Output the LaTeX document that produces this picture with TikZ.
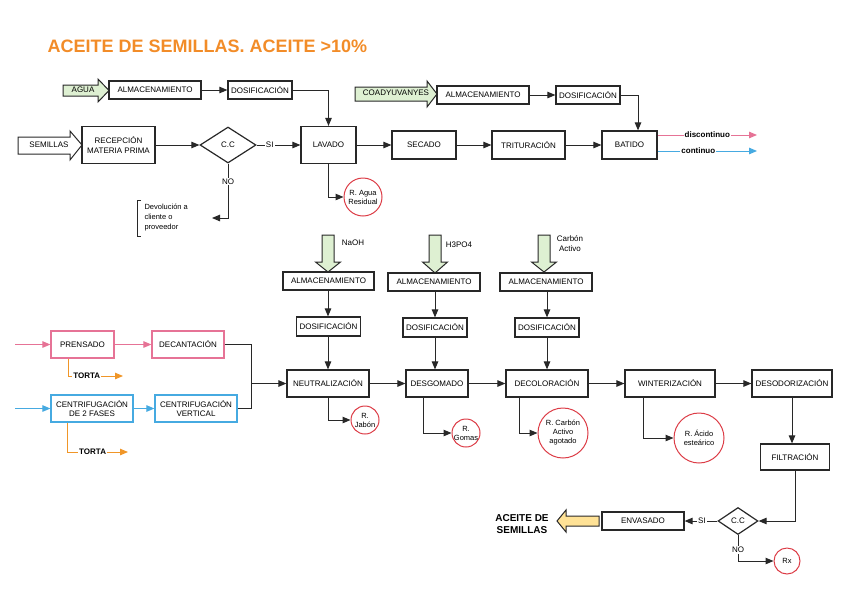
\documentclass[tikz,border=0pt]{standalone}
\usepackage{fontspec}
\setmainfont{Liberation Sans}
\usetikzlibrary{arrows.meta,shapes.geometric,calc}
\definecolor{pinkc}{RGB}{230,115,150}
\definecolor{bluec}{RGB}{70,170,225}
\definecolor{orangec}{RGB}{240,150,40}
\definecolor{redc}{RGB}{220,60,70}
\definecolor{greenf}{RGB}{222,240,210}
\definecolor{yellowf}{RGB}{255,226,150}
\definecolor{titlec}{RGB}{242,140,40}
\definecolor{linec}{RGB}{40,40,40}
\newcommand\mybx[7][linec]{\node[box,draw=#1,minimum width=#5pt,minimum height=#6pt] (#2) at (#3,#4) {#7};}
\begin{document}
\begin{tikzpicture}[x=1pt,y=-1pt,
 font=\fontsize{8}{9.5}\selectfont,
 box/.style={draw=linec, line width=1.2pt, inner sep=0pt, align=center},
 res/.style={circle, draw=redc, line width=1pt, inner sep=0pt, align=center, font=\fontsize{7.5}{9}\selectfont},
 dia/.style={diamond, draw=linec, line width=1.2pt, inner sep=0pt},
 conn/.style={draw=linec, line width=1pt, -{Triangle[length=8pt,width=6.5pt]}},
 plain/.style={draw=linec, line width=1pt},
 lab/.style={fill=white, inner sep=1pt},
 blab/.style={fill=white, inner sep=1pt, font=\fontsize{8}{9.5}\selectfont\bfseries},
 blk/.style={draw=linec, line width=1pt, fill=greenf, line join=miter},
]
\useasboundingbox (0,0) rectangle (848,600);

% title
\node[anchor=west, text=titlec, font=\fontsize{18}{20}\selectfont\bfseries] (title) at (44,46) {ACEITE DE SEMILLAS. ACEITE >10\%};

% block arrows (inputs)
\draw[blk] (63,85)--(98,85)--(98,79)--(109,90.5)--(98,102)--(98,96)--(63,96)--cycle;
\node (agua) at (83,89.5) {AGUA};
\draw[blk, fill=white] (18,137)--(70,137)--(70,131)--(82,145)--(70,160)--(70,154)--(18,154)--cycle;
\node (semillas) at (49,145) {SEMILLAS};
\draw[blk] (355,87)--(427,87)--(427,81)--(437,94)--(427,107)--(427,101)--(355,101)--cycle;
\node (coad) at (396,93) {COADYUVANYES};
\draw[blk] (322,235)--(334,235)--(334,262)--(340.5,262)--(328,272)--(315.5,262)--(322,262)--cycle;
\node (naoh) at (353,243) {NaOH};
\draw[blk] (429,235)--(441,235)--(441,262)--(447.5,262)--(435,273)--(422.5,262)--(429,262)--cycle;
\node (h3po4) at (459,245) {H3PO4};
\draw[blk] (538,235)--(550,235)--(550,262)--(556.5,262)--(544,272)--(531.5,262)--(538,262)--cycle;
\node[align=center] (carbon) at (570,243.5) {Carbón\\Activo};
\draw[blk, fill=yellowf] (599,516)--(566,516)--(566,510)--(557,521)--(566,532)--(566,526)--(599,526)--cycle;
\node[align=center, font=\fontsize{10}{12}\selectfont\bfseries] (prod) at (522,524) {ACEITE DE\\SEMILLAS};

% top section
\mybx{alm1}{155}{90}{92}{18}{ALMACENAMIENTO}
\mybx{dos1}{260}{90}{64}{18}{DOSIFICACIÓN}
\mybx{recep}{118.5}{145}{73}{37}{RECEPCIÓN\\MATERIA PRIMA}
\node[dia, minimum width=56pt, minimum height=36pt] (cc1) at (228,145) {C.C};
\mybx{lavado}{328.5}{145}{55}{37}{LAVADO}
\mybx{secado}{424}{145}{64}{28}{SECADO}
\mybx{trit}{528.5}{145}{73}{28}{TRITURACIÓN}
\mybx{batido}{629.5}{145}{55}{28}{BATIDO}
\mybx{alm2}{483}{95}{92}{18}{ALMACENAMIENTO}
\mybx{dos2}{588}{95}{64}{18}{DOSIFICACIÓN}
\node[res, minimum size=38pt] (ragua) at (363,197) {R. Agua\\Residual};
\node[anchor=west, align=left, font=\fontsize{7.5}{10}\selectfont] (devtxt) at (141,217.5) {Devolución a\\cliente o\\proveedor};
\draw[linec, line width=0.8pt] (141,200) -- (137,200) -- (137,236) -- (141,236);
\coordinate (dev) at (212,218);
\coordinate (disc) at (757,135);
\coordinate (cont) at (757,151);

\draw[conn] (alm1) -- (dos1);
\draw[conn] (dos1.east) -| (lavado.north);
\draw[conn] (recep) -- (cc1);
\draw[conn] (cc1.east) -- (lavado.west) node[pos=0.3, lab] {SI};
\draw[conn] (cc1.south) |- (dev) node[pos=0.165, lab] {NO};
\draw[conn] (lavado.south) |- (ragua.west);
\draw[conn] (lavado) -- (secado);
\draw[conn] (secado) -- (trit);
\draw[conn] (trit) -- (batido);
\draw[conn] (alm2) -- (dos2);
\draw[conn] (dos2.east) -| ([xshift=8.5pt]batido.north);
\draw[conn, draw=pinkc] (batido.east |- disc) -- (disc) node[midway, blab] {discontinuo};
\draw[conn, draw=bluec] (batido.east |- cont) -- (cont) node[pos=0.41, blab] {continuo};

% bottom section
\mybx{almN}{328.5}{281}{91}{18}{ALMACENAMIENTO}
\mybx{dosN}{328.5}{326.5}{64}{19}{DOSIFICACIÓN}
\mybx{neut}{328}{383.5}{82}{27}{NEUTRALIZACIÓN}
\node[res, minimum size=28pt] (rjabon) at (365,420) {R.\\Jabón};
\mybx{almH}{434}{282}{92}{18}{ALMACENAMIENTO}
\mybx{dosH}{435}{327.5}{64}{19}{DOSIFICACIÓN}
\mybx{desg}{437}{383.5}{62}{27}{DESGOMADO}
\node[res, minimum size=28pt] (rgomas) at (466,433) {R.\\Gomas};
\mybx{almC}{546}{282}{92}{18}{ALMACENAMIENTO}
\mybx{dosC}{547}{327.5}{64}{19}{DOSIFICACIÓN}
\mybx{decol}{547}{383.5}{82}{27}{DECOLORACIÓN}
\node[res, minimum size=50pt] (rcarbon) at (563,433) {R. Carbón\\Activo\\agotado};
\mybx{wint}{670}{383.5}{90}{27}{WINTERIZACIÓN}
\node[res, minimum size=50pt] (racido) at (699,438) {R. Ácido\\esteárico};
\mybx{desod}{792}{383.5}{80}{27}{DESODORIZACIÓN}
\mybx{filt}{795}{457}{69}{26}{FILTRACIÓN}
\node[dia, minimum width=40pt, minimum height=27pt] (cc2) at (738,521) {C.C};
\mybx{envas}{643}{521}{82}{18}{ENVASADO}
\node[res, minimum size=26pt] (rx) at (787,561) {Rx};

\mybx[pinkc]{prens}{82.5}{344.5}{63}{27}{PRENSADO}
\mybx[pinkc]{decant}{188}{344.5}{72}{27}{DECANTACIÓN}
\mybx[bluec]{cent2}{92}{408.5}{82}{27}{CENTRIFUGACIÓN\\DE 2 FASES}
\mybx[bluec]{centV}{196}{408.5}{82}{27}{CENTRIFUGACIÓN\\VERTICAL}
\coordinate (pin) at (15,344.5);
\coordinate (bin) at (15,408.5);
\coordinate (t1) at (123,376);
\coordinate (t2) at (128,452);
\coordinate (m) at (251,383.5);

\draw[conn, draw=pinkc] (pin) -- (prens.west);
\draw[conn, draw=pinkc] (prens) -- (decant);
\draw[conn, draw=bluec] (bin) -- (cent2.west);
\draw[conn, draw=bluec] (cent2) -- (centV);
\draw[conn, draw=orangec] ([xshift=-14.5pt]prens.south) |- (t1) node[pos=0.67, blab] {TORTA};
\draw[conn, draw=orangec] ([xshift=-25pt]cent2.south) |- (t2) node[pos=0.71, blab] {TORTA};
\draw[plain] (decant.east) -| (m);
\draw[plain] (centV.east) -| (m);
\draw[conn] (m) -- (neut.west);

\draw[conn] (almN.south -| neut) -- (dosN.north -| neut);
\draw[conn] (dosN.south -| neut) -- (neut.north);
\draw[conn] (neut.south) |- (rjabon.west);
\draw[conn] (almH.south -| dosH) -- (dosH.north);
\draw[conn] (dosH.south) -- (dosH.south |- desg.north);
\draw[conn] ([xshift=-14pt]desg.south) |- (rgomas.west);
\draw[conn] (almC.south -| dosC) -- (dosC.north);
\draw[conn] (dosC.south) -- (decol.north);
\draw[conn] ([xshift=-28pt]decol.south) |- (rcarbon.west);
\draw[conn] (neut) -- (desg);
\draw[conn] (desg) -- (decol);
\draw[conn] (decol) -- (wint);
\draw[conn] (wint) -- (desod);
\draw[conn] ([xshift=-27pt]wint.south) |- (racido.west);
\draw[conn] (desod.south) -- (desod.south |- filt.north);
\draw[conn] (filt.south) |- (cc2.east);
\draw[conn] (cc2.west) -- (envas.east) node[pos=0.47, lab] {SI};
\draw[conn] (cc2.south) |- (rx.west) node[pos=0.29, lab] {NO};
\end{tikzpicture}
\end{document}
